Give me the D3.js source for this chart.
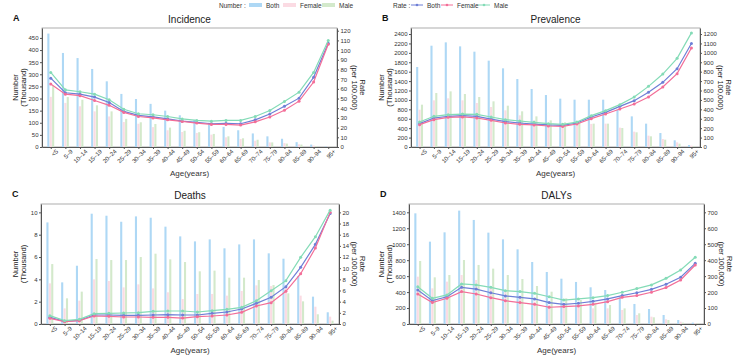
<!DOCTYPE html>
<html>
<head>
<meta charset="utf-8">
<script src="https://d3js.org/d3.v7.min.js"></script>
<style>
  body { margin: 0; background: #fff; }
  svg { font-family: "Liberation Sans", Arial, sans-serif; }
  .axis .domain { stroke: #555; }
  .axis line { stroke: #555; }
  .axis text { fill: #333; font-size: 6px; }
</style>
</head>
<body>
<svg id="chart"></svg>
<script>
// age groups
const ages = ["<5","5–9","10–14","15–19","20–24","25–29","30–34","35–39","40–44","45–49",
              "50–54","55–59","60–64","65–69","70–74","75–79","80–84","85–89","90–94","95+"];

// Incidence
const incNumBoth   = [468,388,367,322,271,219,198,178,150,131,112,100,83,69,56,44,34,20,10,2];
const incNumFemale = [207,182,168,147,126,103,96,82,69,62,58,51,40,33,26,19,16,11,6,1];
const incNumMale   = [252,206,195,172,147,116,102,95,80,67,61,54,44,36,30,19,14,10,3,1];
const incRateBoth   = [71,56,54.5,51.5,46,36.7,32.6,31,29,26.7,25.4,24,24.3,24,28,34,42,50.4,72,107];
const incRateFemale = [65,54.5,53,48,43,35.7,31.5,30,28,26.4,24.7,23.3,23.3,22.6,26,31,38,47.3,67,106];
const incRateMale   = [77,59,57,54.5,48.7,39,34.3,33.3,31.5,29,27.4,26.7,27.4,27.4,31.5,37.7,47,56.6,77,110];

// Prevalence
const prvNumBoth   = [1700,2152,2223,2138,2025,1834,1671,1444,1232,1104,1027,1005,1005,1005,793,651,496,297,142,42];
const prvNumFemale = [793,991,1034,991,935,850,779,673,566,510,474,460,490,496,411,326,241,170,99,28];
const prvNumMale   = [899,1147,1182,1126,1062,970,878,758,651,566,524,510,496,496,404,312,227,156,71,14];
const prvRateBoth   = [248,308,326,333,326,297,269,255,244,234,230,255,319,368,432,492,581,687,832,1100];
const prvRateFemale = [237,290,315,319,308,283,255,241,234,223,219,244,301,350,404,457,531,637,779,1052];
const prvRateMale   = [265,326,343,350,347,319,290,276,262,248,241,265,333,386,450,531,644,775,942,1212];

// Deaths
const dthNumBoth   = [9.1,3.73,5.22,9.88,9.7,9.16,9.64,9.52,8.72,7.85,7.4,7.58,6.78,7.13,7.58,6.33,5.85,4.3,2.45,1.05];
const dthNumFemale = [3.64,1.4,2.09,4.0,3.85,3.28,3.55,3.19,2.84,2.24,2.69,2.69,2.54,2.96,3.46,3.4,3.3,2.54,1.55,0.66];
const dthNumMale   = [5.37,2.3,2.9,5.82,5.73,5.73,6.0,6.3,5.79,5.55,4.72,4.78,4.15,4.15,3.94,3.49,2.75,2.03,0.87,0.3];
const dthRateBoth   = [1.19,0.48,0.66,1.61,1.61,1.55,1.55,1.61,1.67,1.61,1.61,1.91,2.15,2.69,3.7,4.78,6.69,10.15,14.27,19.8];
const dthRateFemale = [1.01,0.42,0.6,1.43,1.37,1.25,1.25,1.19,1.19,1.07,1.31,1.43,1.61,2.09,3.22,3.82,5.85,9.01,13.6,20.0];
const dthRateMale   = [1.49,0.6,0.84,1.85,1.91,1.97,2.03,2.27,2.33,2.33,2.15,2.39,2.63,2.99,4.18,5.97,7.76,11.94,15.64,20.4];

// DALYs
const dlyNumBoth   = [1387,1032,1149,1421,1304,1145,1061,936,777,652,568,527,460,426,340,251,188,113,50,17];
const dlyNumFemale = [593,447,531,614,552,476,405,343,280,238,217,209,196,196,176,113,92,59,29,8];
const dlyNumMale   = [790,585,614,802,740,694,614,564,476,405,322,301,267,238,196,134,84,50,17,8];
const dlyRateBoth   = [213,146,171,230,219,196,176,167,157,134,123,130,142,157,178,196,217,249,293,380];
const dlyRateFemale = [188,134,161,203,188,165,146,134,123,105,109,113,123,140,167,178,199,228,276,370];
const dlyRateMale   = [234,161,182,251,245,230,209,203,192,171,150,157,165,178,199,222,245,286,339,418];

const sexes = ["Both", "Female", "Male"];
const barColors  = {Both: "#aed8f5", Female: "#fbdbe3", Male: "#d3e9cb"};
const lineColors = {Both: "#6e7fd6", Female: "#f36e98", Male: "#84dbb7"};

const width = 733, height = 363;
const svg = d3.select("#chart").attr("width", width).attr("height", height);
const fmt = d3.format("d");

// lOff / rOff: where the rotated axis titles sit, measured from the frame
const panels = [
  {letter: "A", title: "Incidence", x0: 42, x1: 337, y0: 28, y1: 147, lOff: 24.3, rOff: 23.3,
   leftMax: 491, leftTicks: d3.range(0, 451, 50), rightMax: 122.8, rightTicks: d3.range(0, 121, 10),
   num: [incNumBoth, incNumFemale, incNumMale], rate: [incRateBoth, incRateFemale, incRateMale]},
  {letter: "B", title: "Prevalence", x0: 411, x1: 700, y0: 28, y1: 147, lOff: 27.3, rOff: 26.3,
   leftMax: 2528, leftTicks: d3.range(0, 2401, 200), rightMax: 1264, rightTicks: d3.range(0, 1201, 100),
   num: [prvNumBoth, prvNumFemale, prvNumMale], rate: [prvRateBoth, prvRateFemale, prvRateMale]},
  {letter: "C", title: "Deaths", x0: 41, x1: 339, y0: 204, y1: 324, lOff: 23.3, rOff: 21,
   leftMax: 10.75, leftTicks: d3.range(0, 11, 2), rightMax: 21.5, rightTicks: d3.range(0, 21, 2),
   num: [dthNumBoth, dthNumFemale, dthNumMale], rate: [dthRateBoth, dthRateFemale, dthRateMale]},
  {letter: "D", title: "DALYs", x0: 409, x1: 704, y0: 204, y1: 324, lOff: 25.3, rOff: 22.6,
   leftMax: 1504, leftTicks: d3.range(0, 1401, 200), rightMax: 752, rightTicks: d3.range(0, 701, 100),
   num: [dlyNumBoth, dlyNumFemale, dlyNumMale], rate: [dlyRateBoth, dlyRateFemale, dlyRateMale]}
];

panels.forEach(p => {
  const g = svg.append("g");
  const scaleX = d3.scalePoint().domain(ages).range([p.x0, p.x1]).padding(0.6);
  const scaleL = d3.scaleLinear().domain([0, p.leftMax]).range([p.y1, p.y0]);
  const scaleR = d3.scaleLinear().domain([0, p.rightMax]).range([p.y1, p.y0]);

  // frame
  g.append("rect")
   .attr("x", p.x0).attr("y", p.y0)
   .attr("width", p.x1 - p.x0).attr("height", p.y1 - p.y0)
   .attr("fill", "none").attr("stroke", "#999").attr("stroke-width", 0.8);

  // bars
  const barW = 2.1, barOff = 2.4;
  sexes.forEach((s, i) => {
    g.selectAll(null)
     .data(p.num[i])
     .join("rect")
     .attr("x", (d, j) => scaleX(ages[j]) + (i - 1) * barOff - barW / 2)
     .attr("y", d => scaleL(d))
     .attr("width", barW)
     .attr("height", d => p.y1 - scaleL(d))
     .attr("fill", barColors[s]);
  });

  // lines
  const lineGen = d3.line()
                    .x((d, j) => scaleX(ages[j]))
                    .y(d => scaleR(d));
  sexes.forEach((s, i) => {
    g.append("path")
     .attr("d", lineGen(p.rate[i]))
     .attr("fill", "none")
     .attr("stroke", lineColors[s])
     .attr("stroke-width", 1.2);
    g.selectAll(null)
     .data(p.rate[i])
     .join("circle")
     .attr("cx", (d, j) => scaleX(ages[j]))
     .attr("cy", d => scaleR(d))
     .attr("r", 1.5)
     .attr("fill", lineColors[s]);
  });

  // axes
  g.append("g").attr("class", "axis")
   .attr("transform", `translate(${p.x0},0)`)
   .call(d3.axisLeft(scaleL).tickValues(p.leftTicks).tickFormat(fmt).tickSize(2).tickPadding(1.5).tickSizeOuter(0));
  g.append("g").attr("class", "axis")
   .attr("transform", `translate(${p.x1},0)`)
   .call(d3.axisRight(scaleR).tickValues(p.rightTicks).tickFormat(fmt).tickSize(2).tickPadding(1.5).tickSizeOuter(0));
  const bx = g.append("g").attr("class", "axis")
   .attr("transform", `translate(0,${p.y1})`)
   .call(d3.axisBottom(scaleX).tickSize(2).tickSizeOuter(0));
  bx.selectAll("text")
    .attr("text-anchor", "end")
    .attr("dx", "0.3em").attr("dy", "0.6em")
    .attr("transform", "rotate(-45)");

  // titles and labels
  const cx = (p.x0 + p.x1) / 2, cy = (p.y0 + p.y1) / 2;
  g.append("text").attr("x", cx).attr("y", p.y0 - 5)
   .attr("text-anchor", "middle").attr("font-size", 10).attr("fill", "#222").text(p.title);
  g.append("text").attr("x", p.x0 - 29).attr("y", p.y0 - 7)
   .attr("font-size", 9).attr("font-weight", "bold").attr("fill", "#111").text(p.letter);
  g.append("text").attr("x", cx).attr("y", p.y1 + 29)
   .attr("text-anchor", "middle").attr("font-size", 8).attr("fill", "#333").text("Age(years)");

  const ll = g.append("text")
   .attr("transform", `translate(${p.x0 - p.lOff},${cy}) rotate(-90)`)
   .attr("text-anchor", "middle").attr("font-size", 7.5).attr("fill", "#222");
  ll.append("tspan").attr("x", 0).attr("dy", 0).text("Number");
  ll.append("tspan").attr("x", 0).attr("dy", "1.07em").text("(Thousand)");

  const rl = g.append("text")
   .attr("transform", `translate(${p.x1 + p.rOff},${cy}) rotate(90)`)
   .attr("text-anchor", "middle").attr("font-size", 7.5).attr("fill", "#222");
  rl.append("tspan").attr("x", 0).attr("dy", 0).text("Rate");
  rl.append("tspan").attr("x", 0).attr("dy", "1.07em").text("(per 100,000)");
});

// legend
const leg = svg.append("g").attr("font-size", 6.5).attr("fill", "#333");
leg.append("text").attr("x", 219).attr("y", 7.5).text("Number :");
const numLegX = [249, 283, 322];
sexes.forEach((s, i) => {
  leg.append("rect").attr("x", numLegX[i]).attr("y", 3).attr("width", 13).attr("height", 4)
     .attr("fill", barColors[s]);
  leg.append("text").attr("x", numLegX[i] + 17).attr("y", 7.5).text(s);
});
leg.append("text").attr("x", 393).attr("y", 7.5).text("Rate :");
const rateLegX = [411, 441, 478];
sexes.forEach((s, i) => {
  leg.append("line").attr("x1", rateLegX[i]).attr("x2", rateLegX[i] + 12)
     .attr("y1", 5).attr("y2", 5).attr("stroke", lineColors[s]).attr("stroke-width", 1);
  leg.append("circle").attr("cx", rateLegX[i] + 6).attr("cy", 5).attr("r", 1.3).attr("fill", lineColors[s]);
  leg.append("text").attr("x", rateLegX[i] + 16).attr("y", 7.5).text(s);
});
</script>
</body>
</html>
